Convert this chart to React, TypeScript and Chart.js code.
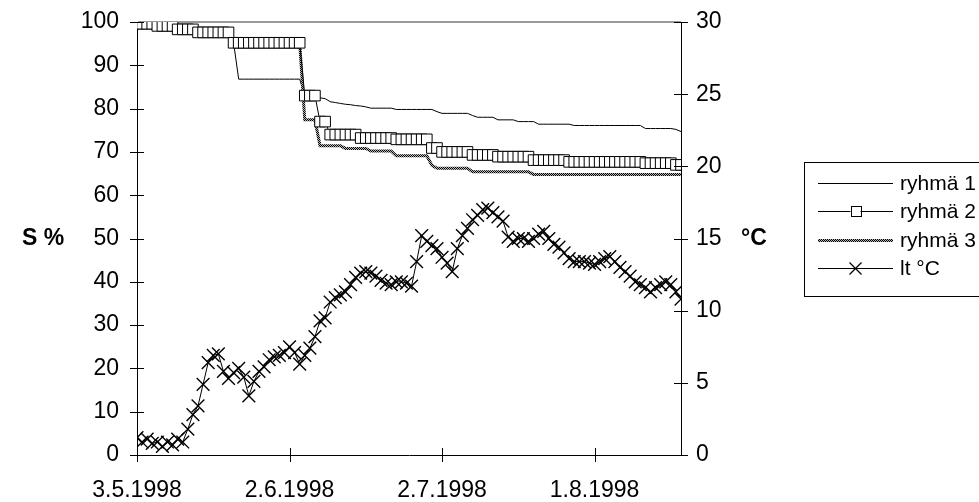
import React, { useEffect, useRef } from 'react';
import { Chart, registerables } from 'chart.js';

Chart.register(...registerables);

const seriesNames = ['ryhmä 1', 'ryhmä 2', 'ryhmä 3', 'lt °C'];
const xTickDays = [0, 30, 60, 90];
const xTickLabels = ['3.5.1998', '2.6.1998', '2.7.1998', '1.8.1998'];
const leftTitle = 'S %';
const rightTitle = '°C';

// ryhmä 1 (S %), one value per day from 3.5.1998
const ryhma1 = [
  99.6, 99.6, 99.6, 99.6, 99.1, 99.1, 99.1, 99.1, 98.3, 98.3,
  98.3, 98.3, 97.6, 97.6, 97.6, 97.6, 97.6, 97.6, 97.6, 95.2,
  86.8, 86.8, 86.8, 86.8, 86.8, 86.8, 86.8, 86.8, 86.8, 86.8,
  86.8, 86.8, 86.8, 83.0, 82.5, 82.5, 82.5, 82.3, 81.6, 81.4,
  81.2, 81.0, 80.9, 80.7, 80.6, 80.4, 80.1, 80.1, 80.1, 80.1,
  80.1, 79.8, 79.8, 79.8, 79.8, 79.8, 79.8, 79.8, 79.8, 79.3,
  78.9, 78.9, 78.9, 78.9, 78.9, 78.9, 78.4, 78.0, 78.0, 78.0,
  78.0, 77.4, 77.4, 77.4, 77.4, 77.0, 77.0, 77.0, 77.0, 76.4,
  76.4, 76.4, 76.4, 76.4, 76.4, 76.4, 76.1, 76.1, 76.1, 76.1,
  76.1, 76.1, 76.1, 76.1, 76.1, 76.1, 76.1, 76.1, 76.1, 76.1,
  75.4, 75.4, 75.4, 75.4, 75.4, 75.4, 75.2, 74.7,
];

// ryhmä 2 (S %)
const ryhma2 = [
  99.6, 99.6, 99.6, 99.6, 99.1, 99.1, 99.1, 99.1, 98.3, 98.3,
  98.3, 98.3, 97.6, 97.6, 97.6, 97.6, 97.6, 97.6, 97.6, 95.2,
  95.2, 95.2, 95.2, 95.2, 95.2, 95.2, 95.2, 95.2, 95.2, 95.2,
  95.2, 95.2, 95.2, 83.0, 83.0, 83.0, 77.0, 77.0, 74.0, 74.0,
  74.0, 74.0, 74.0, 74.0, 73.2, 73.2, 73.2, 73.2, 73.2, 73.2,
  73.2, 72.9, 72.9, 72.9, 72.9, 72.9, 72.9, 72.9, 70.9, 70.9,
  70.0, 70.0, 70.0, 70.0, 70.0, 70.0, 69.3, 69.3, 69.3, 69.3,
  69.3, 68.9, 68.9, 68.9, 68.9, 68.9, 68.9, 68.9, 68.1, 68.1,
  68.1, 68.1, 68.1, 68.1, 68.1, 67.7, 67.7, 67.7, 67.7, 67.7,
  67.7, 67.7, 67.7, 67.7, 67.7, 67.7, 67.7, 67.7, 67.7, 67.7,
  67.4, 67.4, 67.4, 67.4, 67.4, 67.4, 67.0, 67.0,
];

// ryhmä 3 (S %)
const ryhma3 = [
  99.6, 99.6, 99.6, 99.6, 99.1, 99.1, 99.1, 99.1, 98.3, 98.3,
  98.3, 98.3, 97.6, 97.6, 97.6, 97.6, 97.6, 97.6, 97.6, 95.2,
  95.2, 95.2, 95.2, 95.2, 95.2, 95.2, 95.2, 95.2, 95.2, 95.2,
  95.2, 95.2, 95.2, 77.4, 77.4, 77.4, 71.4, 71.4, 71.4, 71.4,
  71.4, 70.8, 70.8, 70.8, 70.8, 70.8, 70.2, 70.2, 70.2, 70.2,
  70.2, 69.1, 69.1, 69.1, 69.1, 69.1, 69.1, 69.1, 66.9, 66.2,
  66.2, 66.2, 66.2, 66.2, 66.2, 66.2, 65.4, 65.4, 65.4, 65.4,
  65.4, 65.4, 65.4, 65.4, 65.4, 65.4, 65.4, 65.4, 64.8, 64.8,
  64.8, 64.8, 64.8, 64.8, 64.8, 64.8, 64.8, 64.8, 64.8, 64.8,
  64.8, 64.8, 64.8, 64.8, 64.8, 64.8, 64.8, 64.8, 64.8, 64.8,
  64.8, 64.8, 64.8, 64.8, 64.8, 64.8, 64.8, 64.8,
];

// lt °C (right axis)
const ltC = [
  1.2, 0.9, 1.1, 0.8, 0.9, 0.6, 0.9, 0.7, 1.1, 0.9,
  1.8, 2.8, 3.4, 4.9, 6.4, 6.9, 7.0, 5.8, 5.3, 5.7,
  6.0, 5.4, 4.1, 5.1, 5.8, 6.1, 6.6, 6.8, 6.9, 7.1,
  7.5, 7.1, 6.3, 6.9, 7.4, 8.2, 9.3, 9.5, 10.6, 10.9,
  11.1, 11.3, 11.8, 12.3, 12.6, 12.7, 12.6, 12.4, 12.1, 11.9,
  11.8, 12.0, 12.0, 11.9, 11.7, 13.4, 15.2, 14.8, 14.5, 14.3,
  13.7, 13.3, 12.7, 14.3, 15.2, 15.7, 16.3, 16.6, 17.0, 17.1,
  16.8, 16.5, 16.2, 15.1, 14.8, 15.0, 15.0, 14.8, 15.0, 15.3,
  15.5, 15.0, 14.6, 14.4, 14.0, 13.6, 13.4, 13.4, 13.4, 13.3,
  13.2, 13.4, 13.6, 13.75, 13.4, 13.0, 12.7, 12.4, 12.0, 11.8,
  11.6, 11.3, 11.6, 11.8, 12.0, 11.8, 11.3, 10.8,
];

const FONT = '"Liberation Sans", Arial, Helvetica, sans-serif';
const TICK_SIZE = 23;

function toPts(arr: number[]) {
  return arr.map((v, i) => ({ x: i, y: v }));
}

function makePattern(): CanvasPattern | string {
  const pc = document.createElement('canvas');
  pc.width = 2;
  pc.height = 2;
  const c = pc.getContext('2d');
  if (!c) return '#666';
  c.fillStyle = '#b8b8b8';
  c.fillRect(0, 0, 2, 2);
  c.fillStyle = '#000';
  c.fillRect(0, 0, 1, 1);
  c.fillRect(1, 1, 1, 1);
  const p = c.createPattern(pc, 'repeat');
  return p || '#666';
}

const noPad = (s: any) => {
  s.paddingTop = 0;
  s.paddingBottom = 0;
  s.paddingLeft = 0;
  s.paddingRight = 0;
};

export default function App() {
  const ref = useRef<HTMLCanvasElement | null>(null);

  useEffect(() => {
    const canvas = ref.current;
    if (!canvas) return;
    const pattern = makePattern();

    const decor = {
      id: 'decor',
      afterDraw(chart: any) {
        const ctx = chart.ctx as CanvasRenderingContext2D;
        const sx = chart.scales.x;
        const sy = chart.scales.y;
        const sy2 = chart.scales.y2;
        ctx.save();
        ctx.strokeStyle = '#000';
        ctx.lineWidth = 1;
        const seg = (x1: number, y1: number, x2: number, y2: number) => {
          ctx.beginPath();
          ctx.moveTo(x1, y1);
          ctx.lineTo(x2, y2);
          ctx.stroke();
        };
        xTickDays.forEach((d) => {
          const px = Math.round(sx.getPixelForValue(d)) + 0.5;
          seg(px, sx.top - 7, px, sx.top + 7);
        });
        sy.ticks.forEach((t: any) => {
          const py = Math.round(sy.getPixelForValue(t.value)) + 0.5;
          seg(sy.right - 7, py, sy.right + 7, py);
        });
        sy2.ticks.forEach((t: any) => {
          const py = Math.round(sy2.getPixelForValue(t.value)) + 0.5;
          seg(sy2.left - 7, py, sy2.left + 7, py);
        });

        // axis titles
        ctx.fillStyle = '#000';
        ctx.font = `bold ${TICK_SIZE}px ${FONT}`;
        ctx.textBaseline = 'middle';
        ctx.textAlign = 'left';
        ctx.fillText(leftTitle, 22, sy.getPixelForValue(50));
        ctx.fillText(rightTitle, 741, sy2.getPixelForValue(15));

        // legend
        const lx = 804.5;
        const ly = 162.5;
        const rowH = 28.5;
        ctx.strokeStyle = '#000';
        ctx.lineWidth = 1;
        ctx.strokeRect(lx, ly, 300, rowH * 4 + 20);
        ctx.font = `21px ${FONT}`;
        seriesNames.forEach((name, i) => {
          const cy = Math.round(ly + 20 + i * rowH) + 0.5;
          const x1 = 818;
          const x2 = 893;
          const mx = (x1 + x2) / 2;
          if (i === 2) {
            ctx.strokeStyle = pattern as any;
            ctx.lineWidth = 3;
          } else {
            ctx.strokeStyle = '#000';
            ctx.lineWidth = 1;
          }
          seg(x1, cy, x2, cy);
          ctx.strokeStyle = '#000';
          ctx.lineWidth = 1;
          if (i === 1) {
            ctx.fillStyle = '#fff';
            ctx.fillRect(mx - 5, cy - 5, 10, 10);
            ctx.strokeRect(Math.round(mx - 5) + 0.5, cy - 5, 10, 10);
          }
          if (i === 3) {
            ctx.lineWidth = 1.3;
            seg(mx - 6, cy - 6, mx + 6, cy + 6);
            seg(mx - 6, cy + 6, mx + 6, cy - 6);
          }
          ctx.fillStyle = '#000';
          ctx.fillText(name, 900, cy + 1);
        });
        ctx.restore();
      },
    };

    const chart = new Chart(canvas, {
      type: 'line',
      data: {
        datasets: [
          {
            label: seriesNames[0],
            data: toPts(ryhma1),
            yAxisID: 'y',
            borderColor: '#000',
            borderWidth: 1,
            pointRadius: 0,
            order: 3,
          },
          {
            label: seriesNames[1],
            data: toPts(ryhma2),
            yAxisID: 'y',
            borderColor: '#000',
            borderWidth: 1,
            pointStyle: 'rect',
            pointRadius: 7.5,
            pointBackgroundColor: '#fff',
            pointBorderColor: '#000',
            pointBorderWidth: 1,
            order: 1,
          },
          {
            label: seriesNames[2],
            data: toPts(ryhma3),
            yAxisID: 'y',
            borderColor: pattern as any,
            borderWidth: 3,
            pointRadius: 0,
            order: 2,
          },
          {
            label: seriesNames[3],
            data: toPts(ltC),
            yAxisID: 'y2',
            borderColor: '#000',
            borderWidth: 1,
            pointStyle: 'crossRot',
            pointRadius: 9,
            pointBorderColor: '#000',
            pointBorderWidth: 1.4,
            order: 4,
          },
        ] as any,
      },
      options: {
        responsive: false,
        animation: false,
        devicePixelRatio: 1,
        layout: { padding: { left: 0, right: 198, top: 22, bottom: 0 } },
        plugins: { legend: { display: false }, tooltip: { enabled: false } },
        scales: {
          x: {
            type: 'linear',
            min: 0,
            max: 107,
            afterFit: (s: any) => {
              s.height = 47;
              noPad(s);
            },
            ticks: {
              stepSize: 30,
              includeBounds: false,
              autoSkip: false,
              maxRotation: 0,
              padding: 22,
              color: '#000',
              font: { family: FONT, size: TICK_SIZE },
              callback: (v: any) => {
                const i = xTickDays.indexOf(Number(v));
                return i >= 0 ? xTickLabels[i] : '';
              },
            },
            grid: { display: false, drawTicks: false },
            border: { display: true, color: '#000', width: 1 },
          },
          y: {
            position: 'left',
            min: 0,
            max: 100,
            afterFit: (s: any) => {
              s.width = 137;
              noPad(s);
            },
            ticks: {
              stepSize: 10,
              padding: 18,
              color: '#000',
              font: { family: FONT, size: TICK_SIZE },
            },
            grid: {
              display: true,
              drawTicks: false,
              lineWidth: 2,
              color: (c: any) => (c.tick && c.tick.value === 100 ? '#999' : 'rgba(0,0,0,0)'),
            },
            border: { display: true, color: '#000', width: 1 },
          },
          y2: {
            position: 'right',
            min: 0,
            max: 30,
            afterFit: (s: any) => {
              s.width = 100;
              noPad(s);
            },
            ticks: {
              stepSize: 5,
              padding: 15,
              color: '#000',
              font: { family: FONT, size: TICK_SIZE },
            },
            grid: { display: false, drawTicks: false },
            border: { display: true, color: '#000', width: 1 },
          },
        },
      } as any,
      plugins: [decor],
    });

    return () => {
      chart.destroy();
    };
  }, []);

  return (
    <div style={{ position: 'fixed', left: 0, top: 0, width: 979, height: 502, background: '#fff', overflow: 'hidden' }}>
      <canvas ref={ref} width={979} height={502} style={{ display: 'block' }} />
    </div>
  );
}
